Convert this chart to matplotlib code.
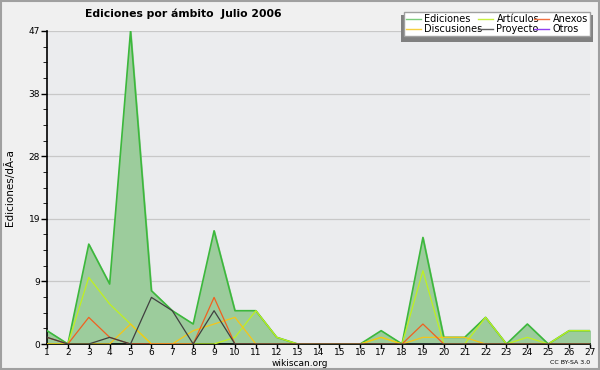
import numpy as np
import matplotlib
matplotlib.use('Agg')
import matplotlib.pyplot as plt
from matplotlib.patches import Rectangle
from matplotlib.ticker import FixedLocator, AutoMinorLocator

days = list(range(1, 28))
ediciones = [2, 0, 15, 9, 47, 8, 5, 3, 17, 5, 5, 1, 0, 0, 0, 0, 2, 0, 16, 1, 1, 4, 0, 3, 0, 2, 2]
articulos = [0, 0, 10, 6, 3, 0, 0, 0, 0, 1, 5, 1, 0, 0, 0, 0, 1, 0, 11, 0, 0, 4, 0, 1, 0, 2, 2]
discusiones = [0, 0, 0, 0, 3, 0, 0, 2, 3, 4, 0, 0, 0, 0, 0, 0, 1, 0, 1, 1, 1, 0, 0, 0, 0, 0, 0]
anexos = [1, 0, 4, 1, 0, 0, 0, 0, 7, 0, 0, 0, 0, 0, 0, 0, 0, 0, 3, 0, 0, 0, 0, 0, 0, 0, 0]
proyecto = [1, 0, 0, 1, 0, 7, 5, 0, 5, 0, 0, 0, 0, 0, 0, 0, 0, 0, 0, 0, 0, 0, 0, 0, 0, 0, 0]
otros = [0] * 27

ymax = 47
yticks = [ymax * k / 5 for k in range(6)]

W, H = 600.0, 370.0
fig = plt.figure(figsize=(6.0, 3.7), dpi=100, facecolor='#f0f0f0')
ax = fig.add_axes([47 / W, 1 - 344 / H, 543 / W, 313 / H])
ax.set_facecolor('#ebecee')

ax.fill_between(days, ediciones, 0, color='#9ccc9c', zorder=2)
ax.plot(days, ediciones, color='#3cb83c', lw=1.2, zorder=3)
ax.plot(days, articulos, color='#c0f020', lw=0.9, zorder=4)
ax.plot(days, discusiones, color='#f5c518', lw=0.9, zorder=4)
ax.plot(days, anexos, color='#f06020', lw=0.9, zorder=4)
ax.plot(days, proyecto, color='#404040', lw=0.9, zorder=4)
ax.plot(days, otros, color='#9040f0', lw=0.9, zorder=1)

ax.set_xlim(1, 27)
ax.set_ylim(0, ymax)
ax.set_xticks(days)
ax.set_xticklabels([str(d) for d in days], fontsize=6.5)
ax.yaxis.set_major_locator(FixedLocator(yticks))
ax.set_yticklabels([str(int(round(v))) for v in yticks], fontsize=6.5)
ax.yaxis.set_minor_locator(AutoMinorLocator(4))
ax.tick_params(axis='y', direction='out', length=4, width=1, pad=1)
ax.tick_params(axis='x', direction='out', length=3, width=1, pad=0)
ax.tick_params(axis='y', which='minor', length=3)
ax.grid(axis='y', color='#c8c8c8', lw=0.9, zorder=0)
ax.set_axisbelow(True)
for s in ['top', 'right']:
    ax.spines[s].set_visible(False)
ax.spines['left'].set_linewidth(1.2)
ax.spines['bottom'].set_linewidth(1.2)
ax.set_ylabel('Ediciones/dÃ-a', fontsize=7.5, labelpad=10)

fig.text(183 / W, 1 - 14 / H, 'Ediciones por ámbito  Julio 2006', ha='center', va='center',
         fontsize=7.8, fontweight='bold')
fig.text(300 / W, 1 - 363 / H, 'wikiscan.org', ha='center', va='center', fontsize=6.5)
fig.text(590 / W, 1 - 363 / H, 'CC BY-SA 3.0', ha='right', va='center', fontsize=4.5)

# legend with shadow box
names = ['Ediciones', 'Discusiones', 'Artículos', 'Proyecto', 'Anexos', 'Otros']
cols = ['#7ccc7c', '#f5d040', '#c8f040', '#606060', '#f07040', '#9040f0']
handles = [plt.Line2D([], [], color=c, lw=1) for c in cols]
fig.patches.append(Rectangle((401 / W, 1 - 42 / H), 192 / W, 27 / H, transform=fig.transFigure,
                             facecolor='#808080', edgecolor='none', zorder=5))
leg = fig.legend(handles, names, ncol=3, loc='upper left',
                 bbox_to_anchor=(404 / W, 1 - 38 / H, 186 / W, 26 / H), mode='expand',
                 fontsize=7, frameon=True, fancybox=False, handlelength=1.5,
                 handletextpad=0.4, columnspacing=0.2, labelspacing=0.0,
                 borderpad=0.2, borderaxespad=0)
leg.get_frame().set_edgecolor('#a0a0a0')
leg.get_frame().set_facecolor('white')
leg.get_frame().set_alpha(1)
leg.set_zorder(6)

fig.patches.append(Rectangle((0.0015, 0.002), 0.997, 0.996, transform=fig.transFigure,
                             facecolor='none', edgecolor='#a0a0a0', lw=1.5))

plt.savefig('out.png', dpi=100, facecolor=fig.get_facecolor())
